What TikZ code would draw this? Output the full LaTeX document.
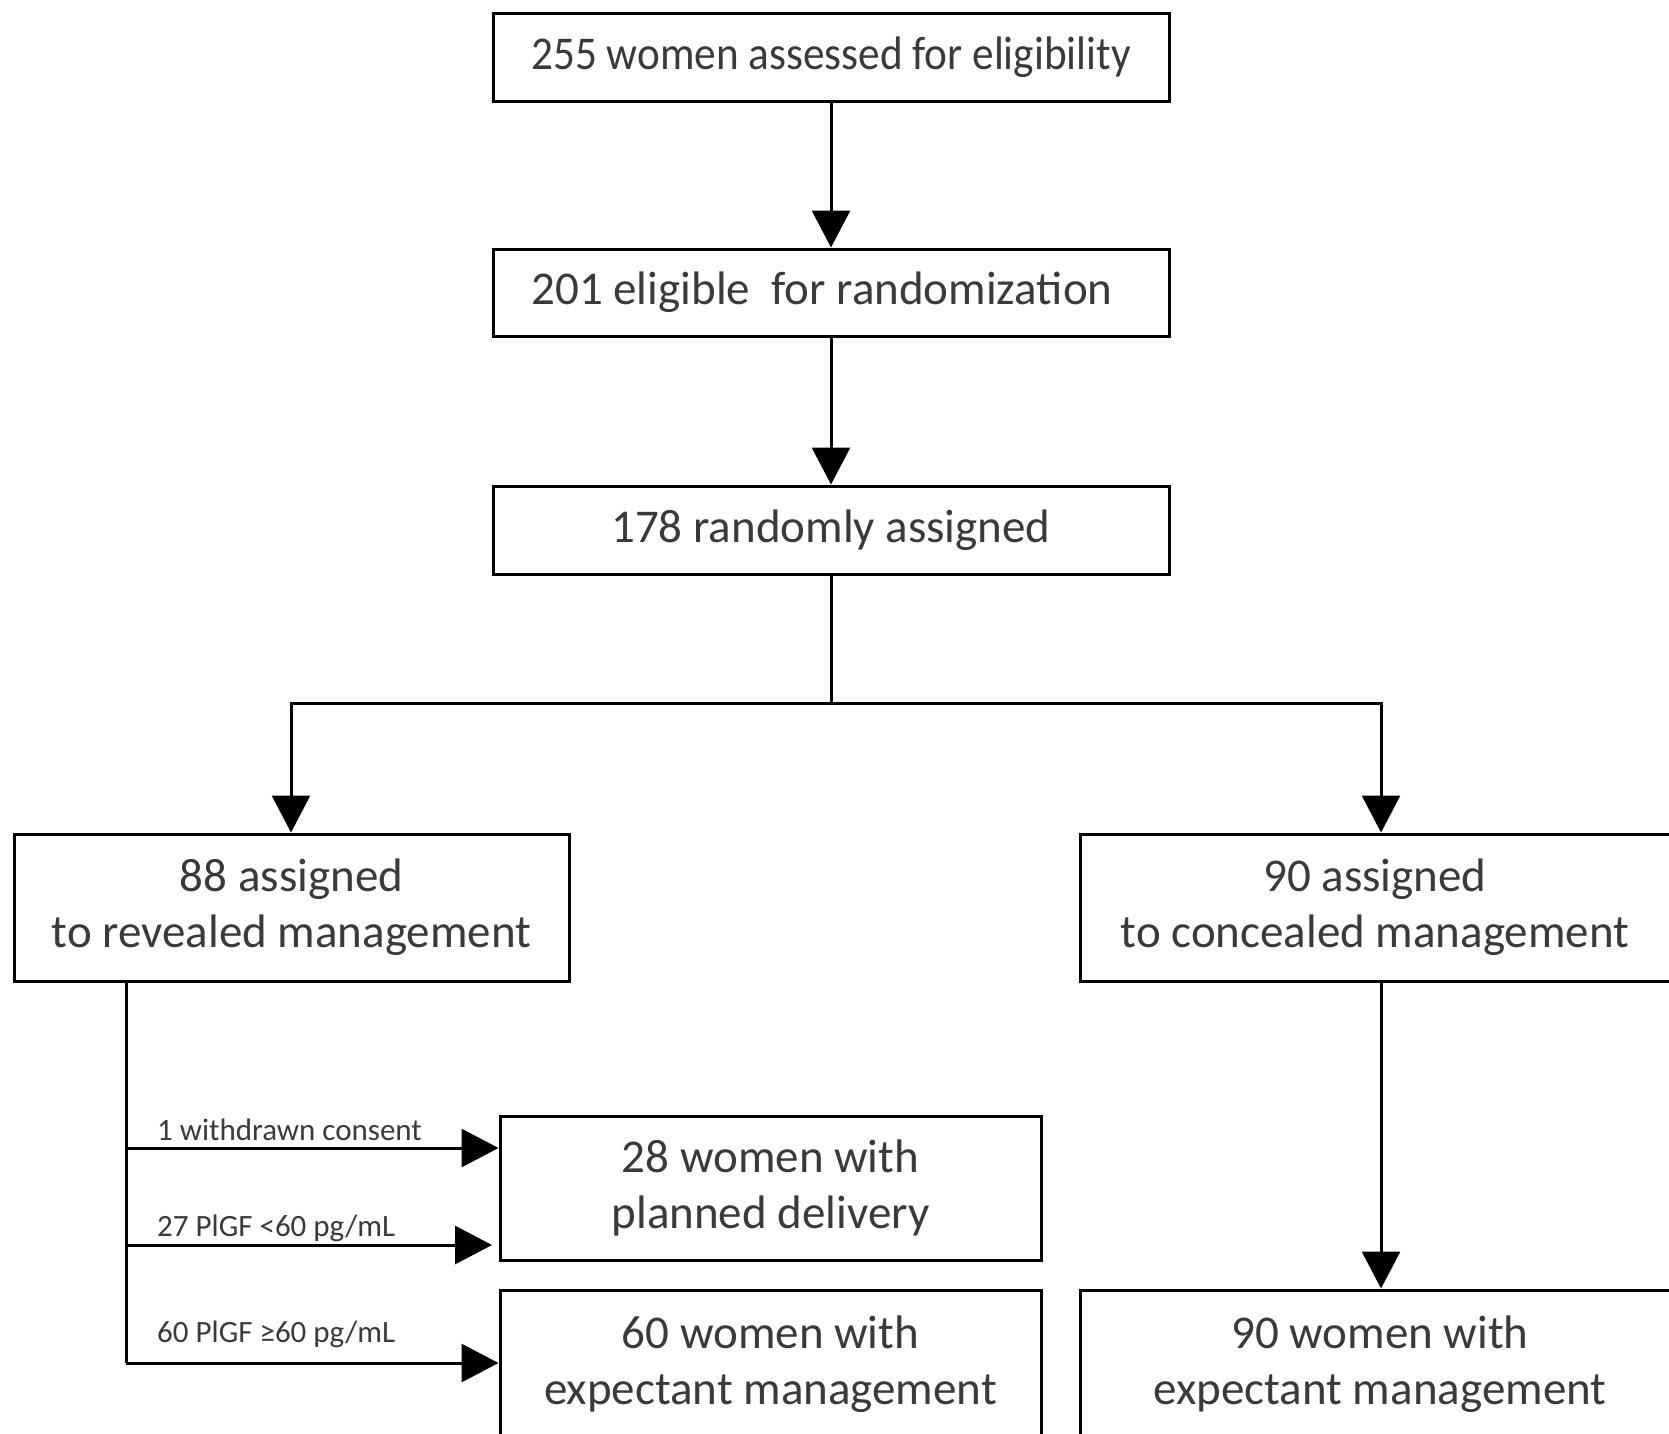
\documentclass[tikz,border=0pt]{standalone}
\usepackage{fontspec}
\setmainfont{Carlito}
\usetikzlibrary{arrows.meta}
\definecolor{txtgray}{HTML}{3A3A3A}
\begin{document}
\begin{tikzpicture}[x=1pt,y=-1pt,
  box/.style={draw=black, line width=3pt, inner sep=0pt, text=txtgray, align=center,
    font=\fontsize{47}{56.4}\selectfont},
  conn/.style={line width=3pt},
  arr/.style={line width=3pt, -{Triangle[length=37pt,width=38pt]}},
  lbl/.style={inner sep=0pt, anchor=base west, text=txtgray, font=\fontsize{31}{36}\selectfont}]
\useasboundingbox (0,0) rectangle (1669,1433);
\clip (0,0) rectangle (1669,1433);
\fill[white] (0,0) rectangle (1669,1433);
% main column
\node[box, minimum width=676pt, minimum height=88pt] (b1) at (831,57) {\scalebox{0.92}[1]{255 women assessed for eligibility}};
\node[box, minimum width=676pt, minimum height=87pt] (b2) at (831,292.5) {\hspace*{-18pt}201 eligible\ \ for randomization};
\node[box, minimum width=676pt, minimum height=88pt] (b3) at (831,530) {178 randomly assigned};
% group boxes
\node[box, minimum width=555pt, minimum height=147pt] (lb) at (291.5,907.5) {88 assigned\\to revealed management};
\node[box, minimum width=590pt, minimum height=147pt] (rb) at (1375,907.5) {90 assigned\\to concealed management};
% outcome boxes
\node[box, minimum width=541pt, minimum height=144pt] (b28) at (770.5,1188) {28 women with\\planned delivery};
\node[box, minimum width=541pt, minimum height=150pt] (b60) at (770.5,1365) {\raisebox{3pt}{\begin{tabular}{@{}c@{}}60 women with\\[-0.8pt]expectant management\end{tabular}}};
\node[box, minimum width=590pt, minimum height=150pt] (b90) at (1375,1365) {\raisebox{3pt}{\begin{tabular}{@{}c@{}}\hspace*{10pt}90 women with\\[-0.8pt]\hspace*{10pt}expectant management\end{tabular}}};
% coordinates
\coordinate (split) at (831,703);
\coordinate (sl) at (291,703);
\coordinate (sr) at (1381,703);
\coordinate (lv0) at (126,981);
\coordinate (lv1) at (126,1148);
\coordinate (lv2) at (126,1245);
\coordinate (lv3) at (126,1363);
\coordinate (a2end) at (492,1245);
\coordinate (rv0) at (1381,981);
% connectors
\draw[arr] (b1) -- (b2);
\draw[arr] (b2) -- (b3);
\draw[conn] (b3.south) -- (split);
\draw[arr] (split) -- (sl) -- (sl |- lb.north);
\draw[arr] (split) -- (sr) -- (sr |- rb.north);
\draw[conn] (lv0) -- (lv3);
\draw[arr] (lv1) -- (b28.west |- lv1);
\draw[arr] (lv2) -- (a2end);
\draw[arr] (lv3) -- (b60.west |- lv3);
\draw[arr] (rv0) -- (rv0 |- b90.north);
% labels
\node[lbl] (l1) at (157,1140) {1 withdrawn consent};
\node[lbl] (l2) at (157,1236) {27 PlGF <60 pg/mL};
\node[lbl] (l3) at (157,1342) {60 PlGF ≥60 pg/mL};
\end{tikzpicture}
\end{document}
